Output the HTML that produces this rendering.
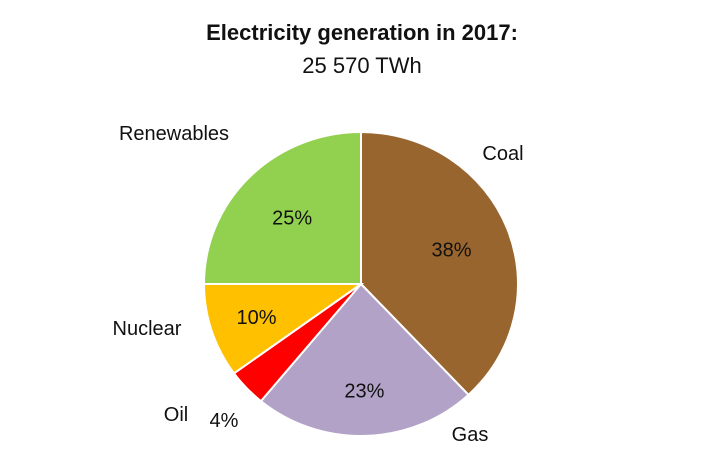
<!DOCTYPE html>
<html><head><meta charset="utf-8"><style>
body{margin:0;background:#fff;}
svg{display:block;font-family:"Liberation Sans",sans-serif;}
</style></head><body>
<svg id="chart" width="720" height="452">
<text x="362" y="40" text-anchor="middle" font-size="22" font-weight="bold" fill="#111">Electricity generation in 2017:</text>
<text x="362" y="73" text-anchor="middle" font-size="22" fill="#111">25 570 TWh</text>
<g id="slices"></g>
<g id="labels"></g>
</svg>
<script>
const categories = ["Coal","Gas","Oil","Nuclear","Renewables"];
const values = [38,23,4,10,25];
const valueLabels = ["38%","23%","4%","10%","25%"];
const colors = ["#98652f","#b3a2c7","#ff0000","#ffc000","#92d050"];
const cx=361, cy=284, rx=157, ry=152;
const NS="http://www.w3.org/2000/svg";
const total = values.reduce((a,b)=>a+b,0);
function pt(frac, k){const a=frac*2*Math.PI; return [cx+k*rx*Math.sin(a), cy-k*ry*Math.cos(a)];}
const sg=document.getElementById('slices'), lg=document.getElementById('labels');
let acc=0;
// label placement: [pct radius factor, name radius factor / offsets]
const pctK=[0.62,0.7,1.0,0.7,0.62];
const nameK=[1.18,1.08,1.3,1.35,1.15];
values.forEach((v,i)=>{
  const f0=acc/total, f1=(acc+v)/total; acc+=v;
  const p0=pt(f0,1), p1=pt(f1,1);
  const large=(f1-f0)>0.5?1:0;
  const p=document.createElementNS(NS,'path');
  p.setAttribute('d',`M${cx},${cy} L${p0[0]},${p0[1]} A${rx},${ry} 0 ${large} 1 ${p1[0]},${p1[1]} Z`);
  p.setAttribute('fill',colors[i]);p.setAttribute('stroke','#fff');p.setAttribute('stroke-width','2');
  
  
  sg.appendChild(p);
  const fm=(f0+f1)/2;
  let lp=pt(fm,pctK[i]);
  if(i===2){lp=[224,420];}
  const t=document.createElementNS(NS,'text');
  t.setAttribute('x',lp[0]);t.setAttribute('y',lp[1]+7);t.setAttribute('text-anchor','middle');
  t.setAttribute('font-size','20');t.setAttribute('fill','#111');
  t.textContent=valueLabels[i];
  
  
  lg.appendChild(t);
});
const namePos=[[503,160],[470,441],[176,421],[147,335],[174,140]];
categories.forEach((c,i)=>{
  const t=document.createElementNS(NS,'text');
  t.setAttribute('x',namePos[i][0]);t.setAttribute('y',namePos[i][1]);t.setAttribute('text-anchor','middle');
  t.setAttribute('font-size','20');t.setAttribute('fill','#111');
  t.textContent=c;
  
  
  lg.appendChild(t);
});
</script>
</body></html>
